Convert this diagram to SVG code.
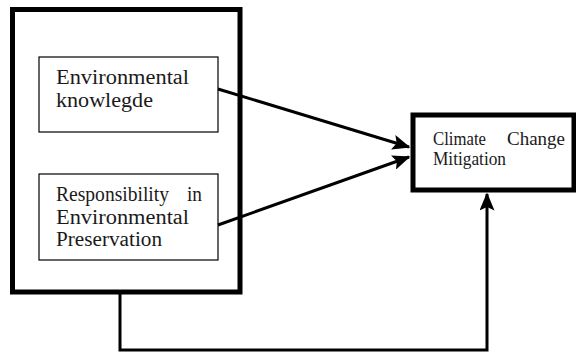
<svg xmlns="http://www.w3.org/2000/svg" width="576" height="354" viewBox="0 0 576 354">
<style>
.thick{fill:#fff;stroke:#000;stroke-width:5}
.thin{fill:#fff;stroke:#000;stroke-width:1.2}
.lbl{font-family:"Liberation Serif","Times New Roman",serif;font-size:20px;fill:#1a1a1a}
.lbl2{font-family:"Liberation Serif","Times New Roman",serif;font-size:18px;fill:#1a1a1a}
.con{fill:none;stroke:#000;stroke-width:3}
</style>
<defs>
<marker id="ah" markerWidth="6" markerHeight="5" refX="5.5" refY="2.5" orient="auto" markerUnits="strokeWidth">
<path d="M0,0 L6,2.5 L0,5 L1.2,2.5 Z" fill="#000"/>
</marker>
</defs>
<rect width="576" height="354" fill="#fff"/>
<g id="outer">
<rect class="thick" x="12.5" y="9.5" width="227.5" height="282.5"/>
</g>
<g id="knowledge">
<rect class="thin" x="39" y="57" width="179" height="75"/>
<text class="lbl" x="56" y="84" textLength="133" lengthAdjust="spacingAndGlyphs">Environmental</text>
<text class="lbl" x="56" y="107" textLength="97" lengthAdjust="spacingAndGlyphs">knowlegde</text>
</g>
<g id="responsibility">
<rect class="thin" x="39" y="174" width="179" height="86"/>
<text class="lbl" x="56" y="201" textLength="113" lengthAdjust="spacingAndGlyphs">Responsibility</text>
<text class="lbl" x="187" y="201" textLength="15" lengthAdjust="spacingAndGlyphs">in</text>
<text class="lbl" x="56" y="223.5" textLength="133" lengthAdjust="spacingAndGlyphs">Environmental</text>
<text class="lbl" x="56" y="245.5" textLength="106" lengthAdjust="spacingAndGlyphs">Preservation</text>
</g>
<g id="climate">
<rect class="thick" x="413" y="115" width="161" height="75"/>
<text class="lbl2" x="433" y="145" textLength="53" lengthAdjust="spacingAndGlyphs">Climate</text>
<text class="lbl2" x="507" y="145" textLength="58" lengthAdjust="spacingAndGlyphs">Change</text>
<text class="lbl2" x="433" y="165" textLength="73" lengthAdjust="spacingAndGlyphs">Mitigation</text>
</g>
<g id="connectors">
<line class="con" x1="218" y1="89" x2="409" y2="147" marker-end="url(#ah)"/>
<line class="con" x1="218" y1="225" x2="409" y2="157" marker-end="url(#ah)"/>
<path class="con" d="M120,294 V350 H487 V194" marker-end="url(#ah)"/>
</g>
</svg>
